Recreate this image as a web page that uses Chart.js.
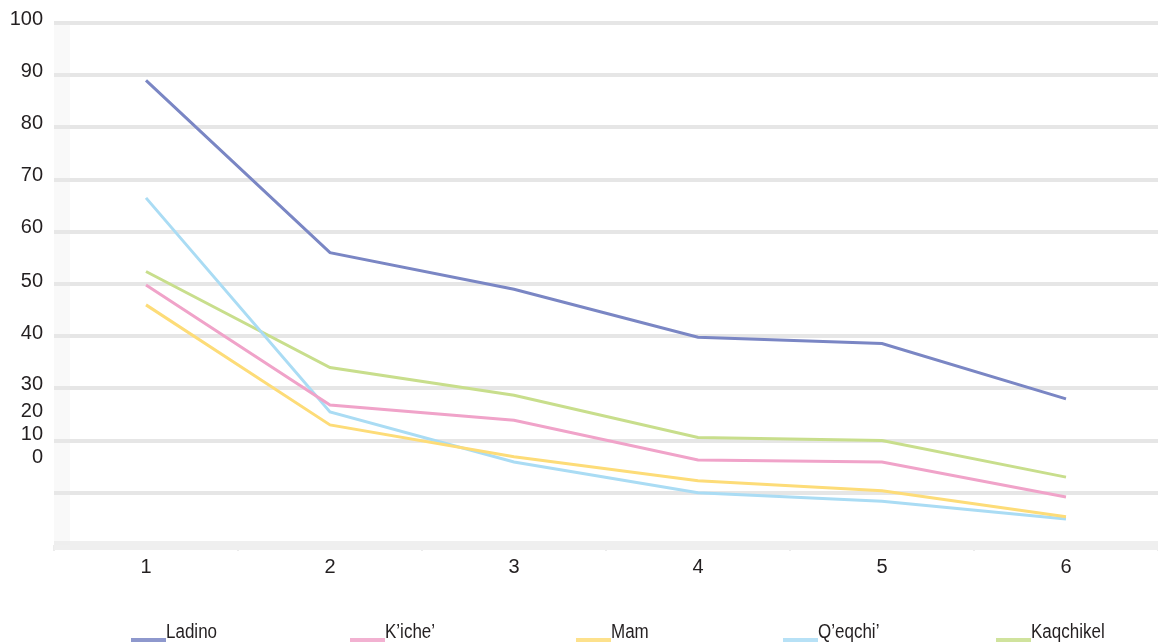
<!DOCTYPE html>
<html>
<head>
<meta charset="utf-8">
<style>
  html, body { margin: 0; padding: 0; background: #ffffff; }
  #wrap { width: 1158px; height: 644px; position: relative; }
</style>
<script src="https://cdn.jsdelivr.net/npm/chart.js@4/dist/chart.umd.min.js"></script>
</head>
<body>
<div id="wrap"><canvas id="chart" width="1158" height="644"></canvas></div>
<script>
// Survey rounds along the horizontal axis
const categories = ['1', '2', '3', '4', '5', '6'];

// Series values per group
const ladino    = [89, 56, 49, 39.8, 38.6, 28];
const kiche     = [49.8, 26.8, 23.9, 16.3, 15.9, 9.2];
const mam       = [46, 23, 16.9, 12.3, 10.4, 5.4];
const qeqchi    = [66.5, 25.5, 15.9, 10, 8.4, 5];
const kaqchikel = [52.4, 34, 28.7, 20.6, 20, 13];

const seriesNames = ['Ladino', 'K\u2019iche\u2019', 'Mam', 'Q\u2019eqchi\u2019', 'Kaqchikel'];

// Vertical axis tick labels, and the scale value at which each one is printed
const yTickLabels = ['100', '90', '80', '70', '60', '50', '40', '30', '20', '10', '0'];
const yTickLabelAt = [100.7, 90.7, 80.7, 70.7, 60.8, 50.5, 40.6, 30.7, 25.5, 21.1, 16.7];

const colors = ['#7a86c4', '#f0a3c9', '#fddc78', '#aadcf4', '#c8de8c'];
const textColor = '#231f20';
const axisFont = { family: '"Liberation Sans", Arial, sans-serif', size: 20 };

// Faint band along the left edge of the plot area
const leftBand = {
  id: 'leftBand',
  beforeDatasetsDraw(chart) {
    const { ctx, chartArea } = chart;
    ctx.save();
    ctx.fillStyle = 'rgba(235,235,235,0.3)';
    ctx.fillRect(chartArea.left, chartArea.top, 16, chartArea.bottom - chartArea.top);
    ctx.restore();
  }
};

// Legend row: short line sample followed by the series name, one per equal slot
const bottomLegend = {
  id: 'bottomLegend',
  afterDraw(chart) {
    const { ctx } = chart;
    const firstCenter = 174, slot = 219, sampleW = 35, baseline = 638, squeeze = 0.85;
    ctx.save();
    ctx.font = '20px "Liberation Sans", Arial, sans-serif';
    ctx.textBaseline = 'alphabetic';
    ctx.textAlign = 'left';
    chart.data.datasets.forEach((ds, i) => {
      const tw = ctx.measureText(ds.label).width * squeeze;
      const total = sampleW + tw;
      const x0 = Math.round(firstCenter + i * slot - total / 2);
      ctx.globalAlpha = 0.85;
      ctx.fillStyle = ds.borderColor;
      ctx.fillRect(x0, baseline, sampleW, 4);
      ctx.globalAlpha = 1;
      ctx.fillStyle = textColor;
      ctx.save();
      ctx.translate(x0 + sampleW, baseline);
      ctx.scale(squeeze, 1);
      ctx.fillText(ds.label, 0, 0);
      ctx.restore();
    });
    ctx.restore();
  }
};

const seriesData = [ladino, kiche, mam, qeqchi, kaqchikel];

new Chart(document.getElementById('chart'), {
  type: 'line',
  data: {
    labels: categories,
    datasets: seriesData.map((values, i) => ({
      label: seriesNames[i],
      data: values,
      borderColor: colors[i],
      backgroundColor: colors[i],
      borderWidth: 3,
      pointRadius: 0,
      tension: 0,
      fill: false,
      yAxisID: 'y'
    }))
  },
  options: {
    responsive: false,
    animation: false,
    devicePixelRatio: 1,
    layout: { padding: { top: 23, right: 0, bottom: 0, left: 0 } },
    plugins: {
      legend: { display: false },
      tooltip: { enabled: false }
    },
    scales: {
      x: {
        type: 'category',
        offset: true,
        grid: {
          offset: true,
          drawOnChartArea: false,
          drawTicks: true,
          tickLength: 6,
          color: '#ececec',
          lineWidth: 2
        },
        border: { display: false },
        ticks: { color: textColor, font: axisFont, padding: 4, maxRotation: 0 },
        afterFit(scale) { scale.height = 99; }
      },
      y: {
        type: 'linear',
        position: 'left',
        weight: 0,
        min: 0,
        max: 100,
        ticks: { display: false, stepSize: 10 },
        grid: {
          drawTicks: false,
          color: (c) => (c.tick && c.tick.value === 0 ? '#efefef' : '#e6e6e6'),
          lineWidth: (c) => (c.tick && c.tick.value === 0 ? 9 : 4)
        },
        border: { display: false },
        afterFit(scale) { scale.width = 0; }
      },
      yLabels: {
        type: 'linear',
        position: 'left',
        weight: 1,
        min: 0,
        max: 100,
        grid: { display: false, drawTicks: false },
        border: { display: false },
        afterBuildTicks(scale) {
          scale.ticks = yTickLabelAt.map((v) => ({ value: v }));
        },
        ticks: {
          autoSkip: false,
          color: textColor,
          font: axisFont,
          padding: 11,
          callback: (value, index) => yTickLabels[index]
        },
        afterFit(scale) { scale.width = 54; }
      }
    }
  },
  plugins: [leftBand, bottomLegend]
});
</script>
</body>
</html>
